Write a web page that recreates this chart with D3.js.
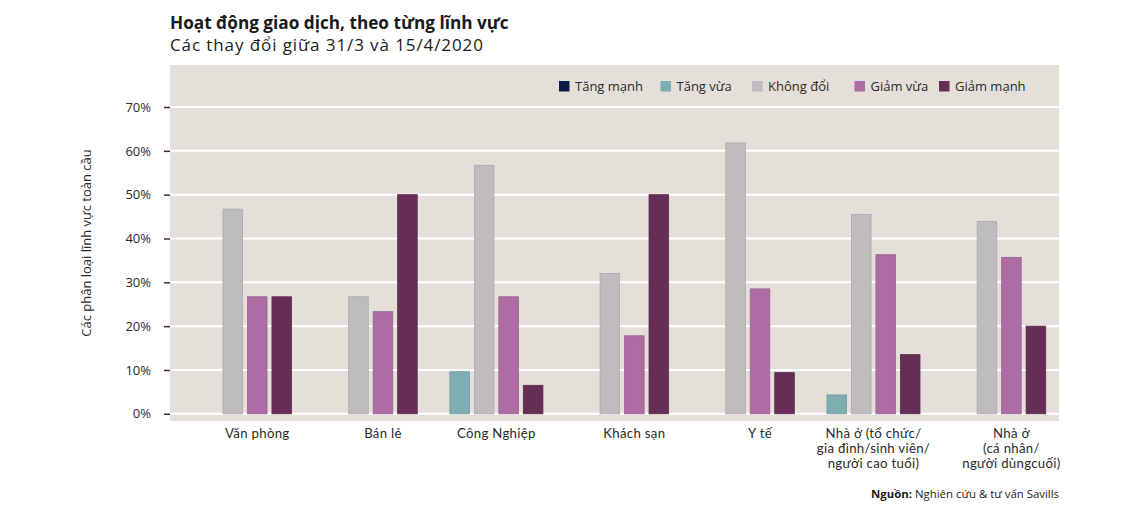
<!DOCTYPE html>
<html><head><meta charset="utf-8">
<script src="https://cdn.jsdelivr.net/npm/d3@7"></script>
<style>body{margin:0;background:#fff;}svg{display:block;font-family:"Open Sans",sans-serif;}</style>
</head><body><svg id="c" width="1140" height="514"></svg>
<script>
const categories = [
  ["Văn phòng"],
  ["Bán lẻ"],
  ["Công Nghiệp"],
  ["Khách sạn"],
  ["Y tế"],
  ["Nhà ở (tổ chức/", "gia đình/sinh viên/", "người cao tuổi)"],
  ["Nhà ở", "(cá nhân/", "người dùngcuối)"]
];
const seriesNames = ["Tăng mạnh", "Tăng vừa", "Không đổi", "Giảm vừa", "Giảm mạnh"];
const seriesColors = ["#0c1b45", "#7eadb2", "#bebcbe", "#ad6ca3", "#662e55"];
const tangManh = [0, 0, 0, 0, 0, 0, 0];
const tangVua  = [0, 0, 9.6, 0, 0, 4.3, 0];
const khongDoi = [46.7, 26.7, 56.7, 32.0, 61.8, 45.5, 43.9];
const giamVua  = [26.7, 23.3, 26.7, 17.8, 28.5, 36.3, 35.7];
const giamManh = [26.7, 50.0, 6.5, 50.0, 9.4, 13.5, 20.0];
const yTicks = [0, 10, 20, 30, 40, 50, 60, 70];

const series = [tangManh, tangVua, khongDoi, giamVua, giamManh];
const svg = d3.select("#c");
const plot = {l:170, r:1059, t:65, b:421};
const textColor = "#2a2a2a";

// title
svg.append("text").attr("x",170).attr("y",29).attr("font-size",17.2).attr("font-weight",700)
  .attr("fill","#1a1a1a").text("Hoạt động giao dịch, theo từng lĩnh vực");
svg.append("text").attr("x",170).attr("y",51).attr("font-size",17).attr("letter-spacing",0.9).attr("fill","#1a1a1a")
  .text("Các thay đổi giữa 31/3 và 15/4/2020");

// background
svg.append("rect").attr("x",plot.l).attr("y",plot.t).attr("width",plot.r-plot.l).attr("height",plot.b-plot.t).attr("fill","#e5dfda");

const y = d3.scaleLinear().domain([0,70]).range([413.8, 107]);
const x0 = d3.scaleBand().domain(d3.range(categories.length)).range([174, 1045.7]).paddingInner(0.065);
const x1 = d3.scaleBand().domain(d3.range(seriesNames.length)).range([0, x0.bandwidth()]).paddingInner(0.2);

// gridlines
svg.append("g").selectAll("line").data(yTicks).join("line")
  .attr("x1",plot.l).attr("x2",plot.r).attr("y1",d=>y(d)).attr("y2",d=>y(d))
  .attr("stroke","#fff").attr("stroke-width",2);

// y axis
const yAxis = d3.axisLeft(y).tickValues(yTicks).tickFormat(d=>d+"%").tickSize(6).tickPadding(13);
const ya = svg.append("g").attr("transform",`translate(${plot.l},0)`).call(yAxis);
ya.select(".domain").remove();
ya.selectAll(".tick line").attr("stroke","#333").attr("stroke-width",1.5);
ya.selectAll(".tick text").attr("font-size",13).attr("fill",textColor).attr("font-family","Open Sans, sans-serif");

svg.append("text").attr("transform","translate(91,243) rotate(-90)").attr("text-anchor","middle")
  .attr("font-size",13).attr("fill",textColor).text("Các phân loại lĩnh vực toàn cầu");

// bars
const g = svg.append("g");
categories.forEach((c, ci) => {
  series.forEach((s, si) => {
    const v = s[ci];
    if (v <= 0) return;
    const col = d3.color(seriesColors[si]);
    g.append("rect")
      .attr("x", x0(ci) + x1(si)).attr("width", x1.bandwidth())
      .attr("y", y(v)).attr("height", y(0) - y(v))
      .attr("fill", seriesColors[si])
      .attr("stroke", col.darker(0.3)).attr("stroke-width", 0.8);
  });
});

// category labels centered on non-zero bars
const lab = svg.append("g");
categories.forEach((c, ci) => {
  const idx = series.map((s,si)=>s[ci]>0?si:-1).filter(i=>i>=0);
  const xs = x0(ci) + x1(d3.min(idx));
  const xe = x0(ci) + x1(d3.max(idx)) + x1.bandwidth();
  const cx = (xs + xe) / 2;
  c.forEach((line, li) => {
    lab.append("text").attr("text-anchor","middle").attr("font-size",13.2)
      .attr("font-family","Lato, sans-serif").attr("letter-spacing",0.3).attr("fill",textColor)
      .attr("x", cx).attr("y", 438 + li*15.2).text(line);
  });
});

// legend
const legX = [559, 660.5, 752, 854.5, 939];
const leg = svg.append("g");
seriesNames.forEach((n, i) => {
  leg.append("rect").attr("x", legX[i]).attr("y", 81).attr("width", 10.5).attr("height", 10.5).attr("fill", seriesColors[i]);
  leg.append("text").attr("x", legX[i] + 16).attr("y", 90.5).attr("font-size",13).attr("fill",textColor).text(n);
});

// source
const src = svg.append("text").attr("x",1059).attr("y",498).attr("text-anchor","end").attr("font-size",11.4).attr("fill","#1a1a1a");
src.append("tspan").attr("font-weight",700).text("Nguồn:");
src.append("tspan").text(" Nghiên cứu & tư vấn Savills");
</script></body></html>
